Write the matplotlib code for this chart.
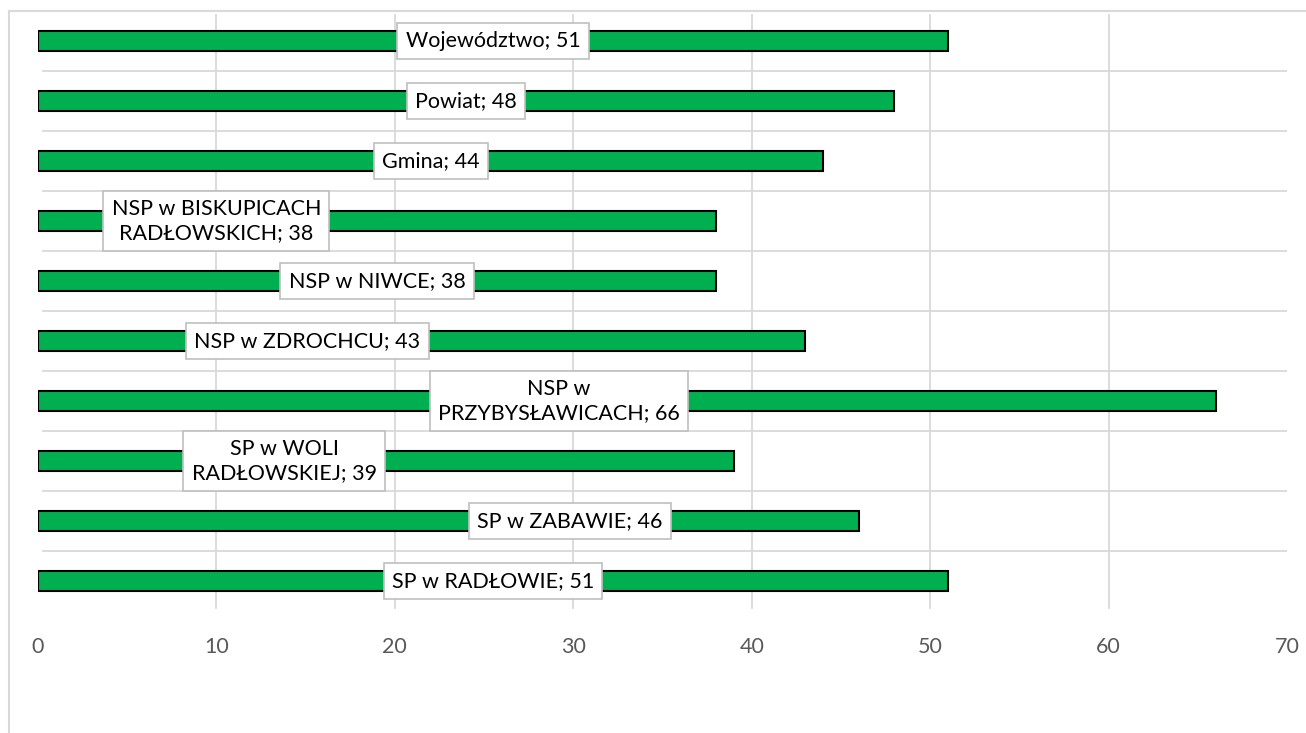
import matplotlib
matplotlib.use("Agg")
import matplotlib.pyplot as plt
from matplotlib.lines import Line2D

# data, top to bottom as in the chart
categories = ["Województwo", "Powiat", "Gmina", "NSP w BISKUPICACH\nRADŁOWSKICH",
              "NSP w NIWCE", "NSP w ZDROCHCU", "NSP w\nPRZYBYSŁAWICACH",
              "SP w WOLI\nRADŁOWSKIEJ", "SP w ZABAWIE", "SP w RADŁOWIE"]
values = [51, 48, 44, 38, 38, 43, 66, 39, 46, 51]
ticks = [0, 10, 20, 30, 40, 50, 60, 70]

# where each data label sits along x (some were moved by hand in the original)
label_x = [25.5, 24.0, 22.0, 10.0, 19.0, 15.1, 29.2, 13.8, 29.8, 25.5]

plt.rcParams['font.family'] = ['Lato', 'DejaVu Sans']

fig = plt.figure(figsize=(13.06, 7.33), dpi=100)
W, H = 1306, 733
ax = fig.add_axes([38 / W, 1 - 611 / H, (1287 - 38) / W, 600 / H])

ypos = list(range(len(categories)))
ax.barh(ypos, values, height=0.33, color="#00B050", edgecolor="black", linewidth=1.5, zorder=3)

ax.set_xlim(0, 70)
ax.set_ylim(len(categories) - 0.5, -0.5)

# gridlines
for t in ticks[1:-1]:
    ax.plot([t, t], [len(categories) - 0.55, -0.43], color="#D9D9D9", lw=1.3, zorder=1)
for i in range(len(categories) - 1):
    ax.plot([0.3, 70], [i + 0.5, i + 0.5], color="#D9D9D9", lw=1.3, zorder=1)

for y, (cat, v, lx) in enumerate(zip(categories, values, label_x)):
    ax.text(lx, y, f"{cat}; {v}", ha="center", va="center", multialignment="center",
            fontsize=15.5, color="#000000", zorder=5, linespacing=1.25,
            bbox=dict(boxstyle="square,pad=0.38", fc="white", ec="#BFBFBF", lw=1.2))

ax.set_xticks(ticks)
ax.set_xticklabels([str(t) for t in ticks], fontsize=15.5, color="#595959")
ax.set_yticks([])
ax.tick_params(axis="x", length=0, pad=19)
for s in ax.spines.values():
    s.set_visible(False)

# outer chart frame (left and top edges visible)
fig.add_artist(Line2D([9 / W, 9 / W], [0, 1 - 11 / H], transform=fig.transFigure, color="#D9D9D9", lw=1.5))
fig.add_artist(Line2D([9 / W, 1], [1 - 11 / H, 1 - 11 / H], transform=fig.transFigure, color="#D9D9D9", lw=1.5))

fig.savefig("out.png", dpi=100)
